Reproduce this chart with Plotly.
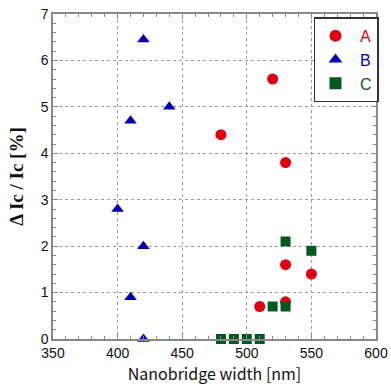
import plotly.graph_objects as go

a_x = [480, 520, 530, 530, 550, 510, 530]
a_y = [4.4, 5.6, 3.8, 1.6, 1.4, 0.7, 0.8]
b_x = [420, 440, 410, 400, 420, 410, 420]
b_y = [6.45, 5.0, 4.7, 2.8, 2.0, 0.9, 0.0]
c_x = [480, 490, 500, 510, 520, 530, 530, 550]
c_y = [0.0, 0.0, 0.0, 0.0, 0.7, 0.7, 2.1, 1.9]

RED = "#e00010"
BLUE = "#0000b4"
GREEN = "#005a1e"

fig = go.Figure()
fig.add_trace(go.Scatter(x=a_x, y=a_y, mode="markers", cliponaxis=False,
                         name=f"&nbsp;<span style='color:{RED}'>A</span>",
                         marker=dict(symbol="circle", size=11, color=RED)))
fig.add_trace(go.Scatter(x=b_x, y=b_y, mode="markers", cliponaxis=False,
                         name=f"&nbsp;<span style='color:{BLUE}'>B</span>",
                         marker=dict(symbol="triangle-up", size=11, color=BLUE)))
fig.add_trace(go.Scatter(x=c_x, y=c_y, mode="markers", cliponaxis=False,
                         name=f"&nbsp;<span style='color:{GREEN}'>C</span>",
                         marker=dict(symbol="square", size=10, color=GREEN)))

axis_common = dict(
    showline=True, linecolor="#888888", linewidth=1.5, mirror="ticks",
    ticks="inside", ticklen=5, tickcolor="#888888",
    showgrid=True, gridcolor="#999999", griddash="dot", gridwidth=1,
    zeroline=False, automargin=False, ticklabeloverflow="allow",
    tickfont=dict(family="Liberation Sans, Arial", size=14, color="#111111"),
)

fig.update_layout(
    width=391, height=385,
    margin=dict(l=53, r=12, t=14, b=46),
    paper_bgcolor="white", plot_bgcolor="white",
    showlegend=True,
    legend=dict(x=0.808, y=0.99, xanchor="left", yanchor="top",
                bgcolor="white", bordercolor="#333333", borderwidth=1.5,
                font=dict(family="Liberation Sans, Arial", size=16),
                itemwidth=30, tracegroupgap=0, itemsizing="constant"),
    xaxis=dict(range=[350, 600], dtick=50,
               minor=dict(dtick=10, ticks="inside", ticklen=3, tickcolor="#888888", showgrid=False),
               title=dict(text="Nanobridge width [nm]", standoff=7,
                          font=dict(family="Noto Sans CJK JP", size=16, color="#111111")),
               **axis_common),
    yaxis=dict(range=[0, 7], dtick=1,
               minor=dict(dtick=0.2, ticks="inside", ticklen=3, tickcolor="#888888", showgrid=False),
               title=dict(text="<b>Δ Ic / Ic [%]</b>", standoff=12,
                          font=dict(family="Liberation Serif", size=19, color="#111111")),
               **axis_common),
)

fig.write_html("out.html",
               config={"displayModeBar": False},
               post_script="document.body.style.margin='0';document.body.style.overflow='hidden';")
